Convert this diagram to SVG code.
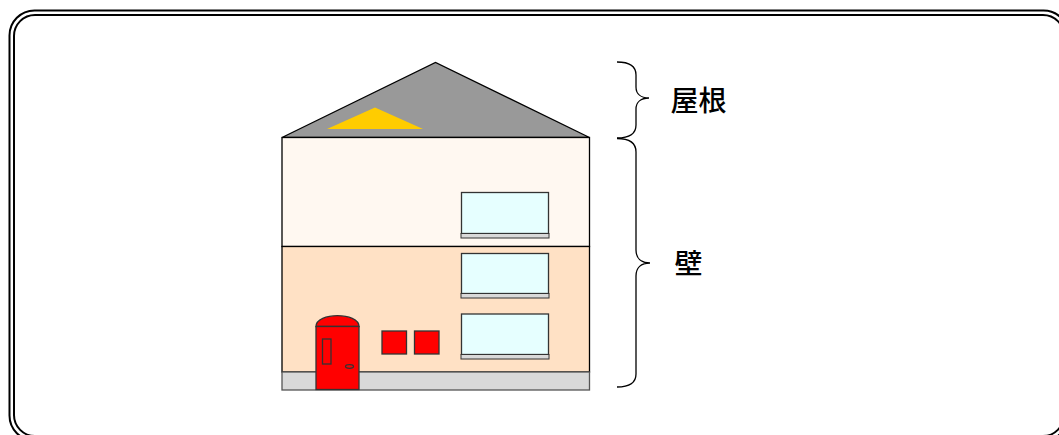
<svg xmlns="http://www.w3.org/2000/svg" width="1059" height="435" viewBox="0 0 1059 435">
<style>
.frame{fill:none;stroke:#000;stroke-width:2}
.edge{stroke:#000;stroke-width:1.3}
.glass{fill:#E6FFFF;stroke:#333;stroke-width:1.3}
.sill{fill:#D9D9D9;stroke:#333;stroke-width:1}
.red{fill:#FF0000;stroke:#333;stroke-width:1.3}
.brace{fill:none;stroke:#000;stroke-width:1.3}
.lbl{font-family:"Noto Sans CJK JP","Noto Sans CJK SC",sans-serif;font-size:28px;font-weight:500;fill:#000}
</style>
<rect width="1059" height="435" fill="#fff"/>
<g id="frame">
<rect class="frame" x="9.5" y="10.5" width="1059" height="430" rx="25"/>
<rect class="frame" x="14" y="15" width="1050" height="421" rx="21"/>
</g>
<g id="house">
<polygon points="282,137.5 435.5,62.5 589.5,137.5" fill="#999999" class="edge"/>
<polygon points="327,129 375,107.5 423,129" fill="#FFCC00"/>
<rect x="282" y="137.5" width="307.5" height="109" fill="#FFF8F1" class="edge"/>
<rect x="282" y="246.5" width="307.5" height="125.5" fill="#FFE1C5" class="edge"/>
<rect x="282" y="372" width="307.5" height="18" fill="#D9D9D9" stroke="#555" stroke-width="1.3"/>
<g id="window1">
<rect class="glass" x="461.5" y="192.5" width="87" height="41"/>
<rect class="sill" x="461" y="233.5" width="88" height="4.5"/>
</g>
<g id="window2">
<rect class="glass" x="461.5" y="253.5" width="87" height="40"/>
<rect class="sill" x="461" y="293.5" width="88" height="4.5"/>
</g>
<g id="window3">
<rect class="glass" x="461.5" y="314" width="87" height="40.5"/>
<rect class="sill" x="461" y="354.5" width="88" height="4.5"/>
</g>
<g id="door">
<path class="red" d="M316,326.5 C316,312 359,312 359,326.5 Z"/>
<rect class="red" x="316" y="326.5" width="43" height="63"/>
<rect class="red" x="322.5" y="339" width="8.5" height="25"/>
<ellipse class="red" cx="349.5" cy="366.5" rx="4" ry="1.8"/>
</g>
<rect class="red" x="382" y="331" width="24.5" height="23"/>
<rect class="red" x="414.5" y="331" width="24.5" height="23"/>
</g>
<g id="connectors">
<path class="brace" d="M617,62 C630,62 636,66 636,75 L636,87 C636,94 641,98 649,98 C641,98 636,102 636,109 L636,125 C636,133 630,138 617,138"/>
<path class="brace" d="M617,138.5 C630,138.5 636,143 636,152 L636,250 C636,258 641,263 650,263 C641,263 636,268 636,276 L636,374 C636,382 630,387 617,387"/>
</g>
<g id="label-roof"><text class="lbl" x="670.5" y="110.5">屋根</text></g>
<g id="label-wall"><text class="lbl" x="674.5" y="273.5">壁</text></g>
</svg>
